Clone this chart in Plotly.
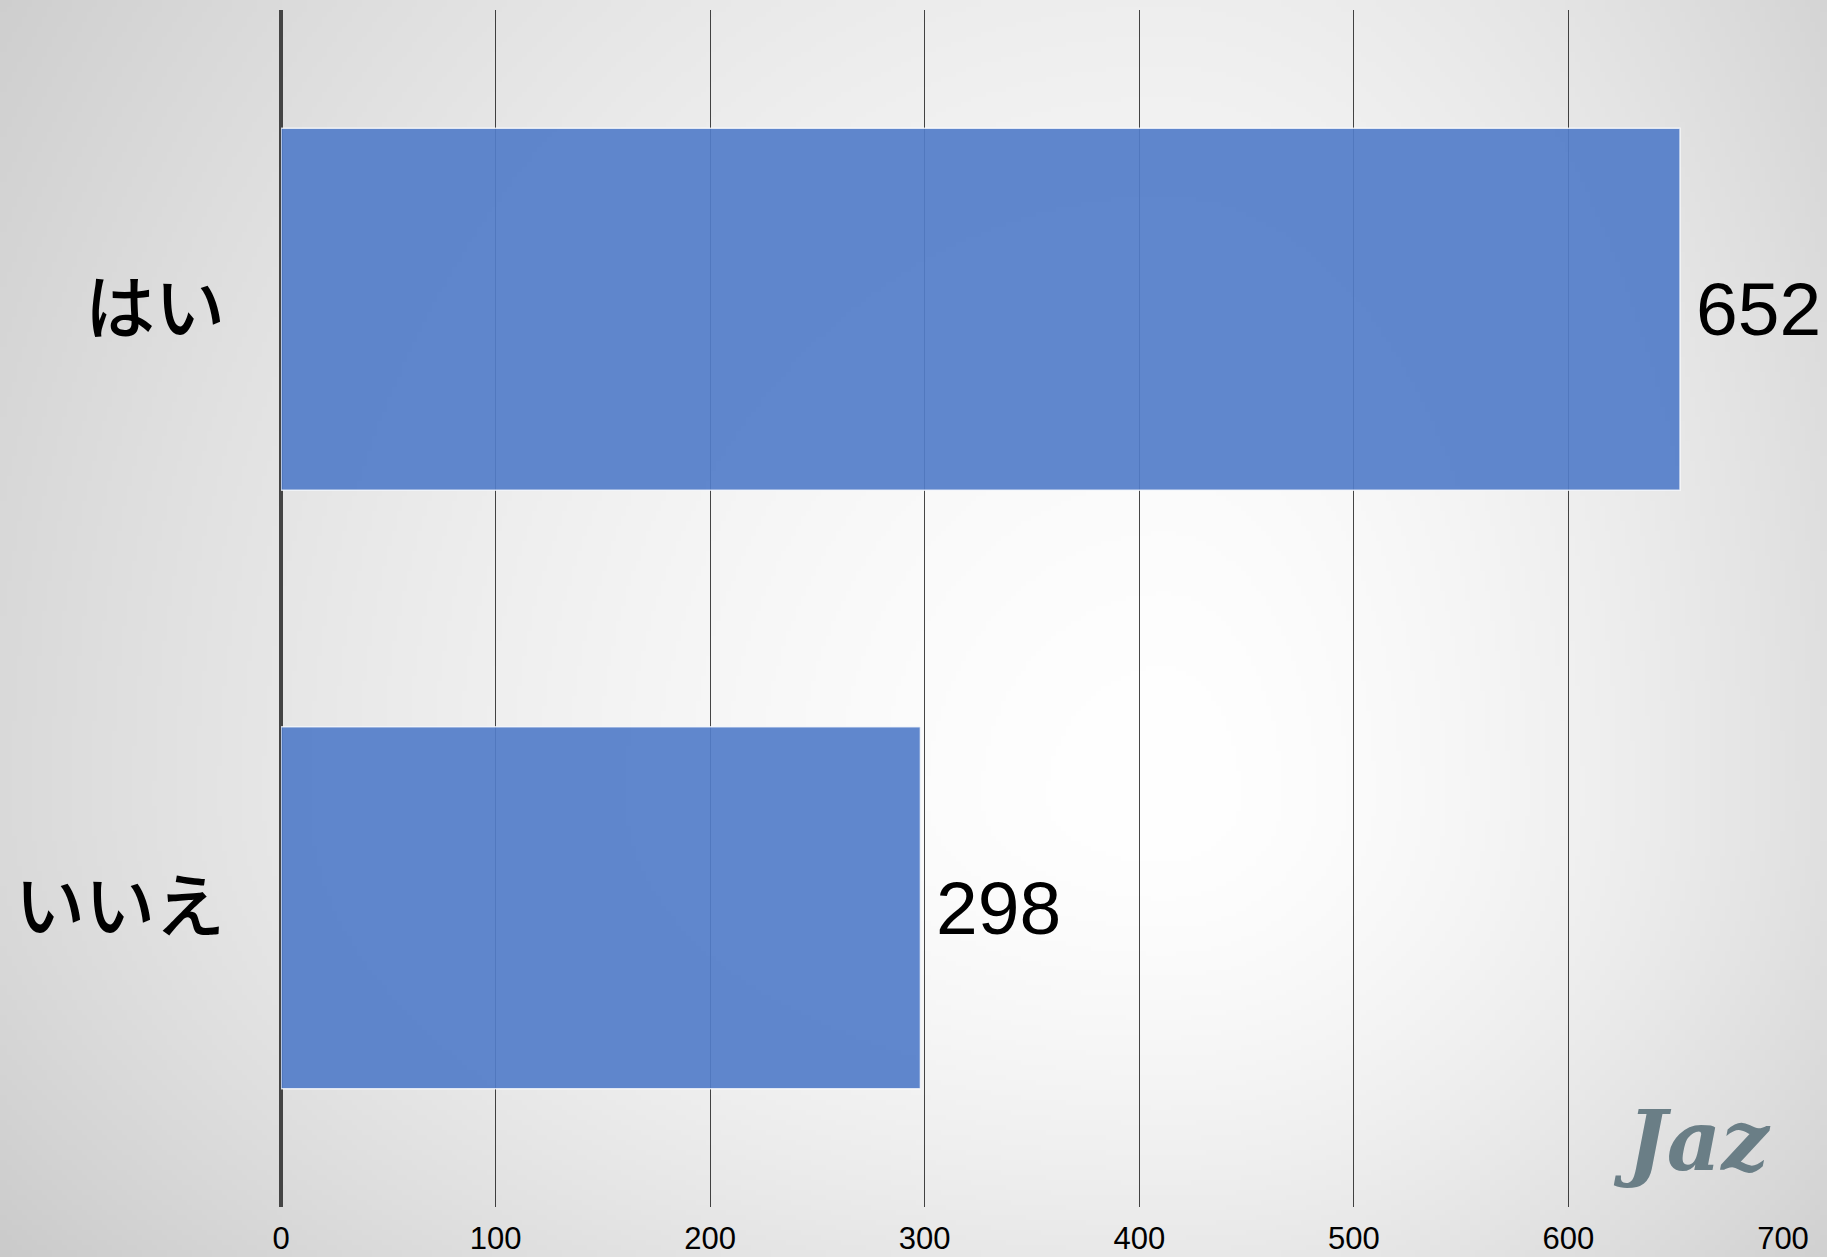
import base64, struct, zlib
import numpy as np
import plotly.graph_objects as go

# ---- data ----
categories = ["はい", "いいえ"]
values = [652, 298]
x_ticks = [0, 100, 200, 300, 400, 500, 600, 700]
watermark = "Jaz"

# ---- layout geometry ----
W, H = 1827, 1257
ML, MR, MT, MB = 281, 44, 10, 50
PW, PH = W - ML - MR, H - MT - MB


def gradient_png(w, h):
    s = W / w
    ys, xs = np.mgrid[0:h, 0:w]
    px = (xs + 0.5) * s
    py = (ys + 0.5) * s
    cx, cy = 1165.0, 800.0
    dx = px - cx
    dy = py - cy
    rx = np.where(dx < 0, 1250.0, 800.0)
    ry = np.where(dy < 0, 1400.0, 680.0)
    r = np.sqrt((dx / rx) ** 2 + (dy / ry) ** 2)
    val = 255.0 - 42.0 * r ** 1.6
    val = np.clip(val, 190, 255).astype(np.uint8)
    raw = b"".join(b"\x00" + val[i].tobytes() for i in range(h))

    def chunk(t, d):
        c = struct.pack(">I", len(d)) + t + d
        return c + struct.pack(">I", zlib.crc32(t + d) & 0xFFFFFFFF)

    png = b"\x89PNG\r\n\x1a\n"
    png += chunk(b"IHDR", struct.pack(">IIBBBBB", w, h, 8, 0, 0, 0, 0))
    png += chunk(b"IDAT", zlib.compress(raw, 9))
    png += chunk(b"IEND", b"")
    return "data:image/png;base64," + base64.b64encode(png).decode()


bg = gradient_png(366, 252)

fig = go.Figure()
fig.add_trace(go.Bar(
    x=values,
    y=categories,
    orientation="h",
    marker=dict(color="rgba(83,125,201,0.92)",
                line=dict(color="rgba(255,255,255,0.75)", width=1.5)),
    width=0.605,
    hoverinfo="skip",
))

annotations = []
for c, v in zip(categories, values):
    annotations.append(dict(
        x=v, y=c, xref="x", yref="y", text=str(v), showarrow=False,
        xanchor="left", yanchor="middle", xshift=14,
        font=dict(family="Liberation Sans, Arial, sans-serif", size=75, color="black"),
    ))

annotations.append(dict(
    x=(1692 - ML) / PW, y=(MT + PH - 1140) / PH, xref="paper", yref="paper",
    text=watermark, showarrow=False, xanchor="center", yanchor="middle",
    font=dict(family="DejaVu Serif", size=84, color="#6a7e86", style="italic", weight="bold"),
))

fig.update_layout(
    width=W, height=H,
    margin=dict(l=ML, r=MR, t=MT, b=MB, pad=0, autoexpand=False),
    paper_bgcolor="#d6d6d6",
    plot_bgcolor="rgba(0,0,0,0)",
    showlegend=False,
    images=[dict(
        source=bg, xref="paper", yref="paper",
        x=-ML / PW, y=1 + MT / PH,
        sizex=W / PW, sizey=H / PH,
        xanchor="left", yanchor="top",
        sizing="stretch", layer="below",
    )],
    annotations=annotations,
    xaxis=dict(
        range=[0, 700], tickvals=x_ticks, ticktext=[str(t) for t in x_ticks],
        showgrid=True, gridcolor="rgba(0,0,0,0.72)", gridwidth=1.2,
        zeroline=True, zerolinecolor="#444444", zerolinewidth=4,
        showline=False, ticks="", ticklabelstandoff=10, automargin=False,
        tickfont=dict(family="Liberation Sans, Arial, sans-serif", size=31, color="black"),
        fixedrange=True,
    ),
    yaxis=dict(
        categoryorder="array", categoryarray=categories[::-1],
        range=[-0.5, 1.5], showgrid=False, zeroline=False, showline=False,
        ticks="", ticklabelstandoff=55, automargin=False,
        tickfont=dict(family="Noto Sans CJK JP", size=70, color="black", weight=500),
        fixedrange=True,
    ),
)

fig.write_html(
    "out.html",
    config={"displayModeBar": False},
    post_script="document.body.style.margin='0';document.body.style.padding='0';",
)
